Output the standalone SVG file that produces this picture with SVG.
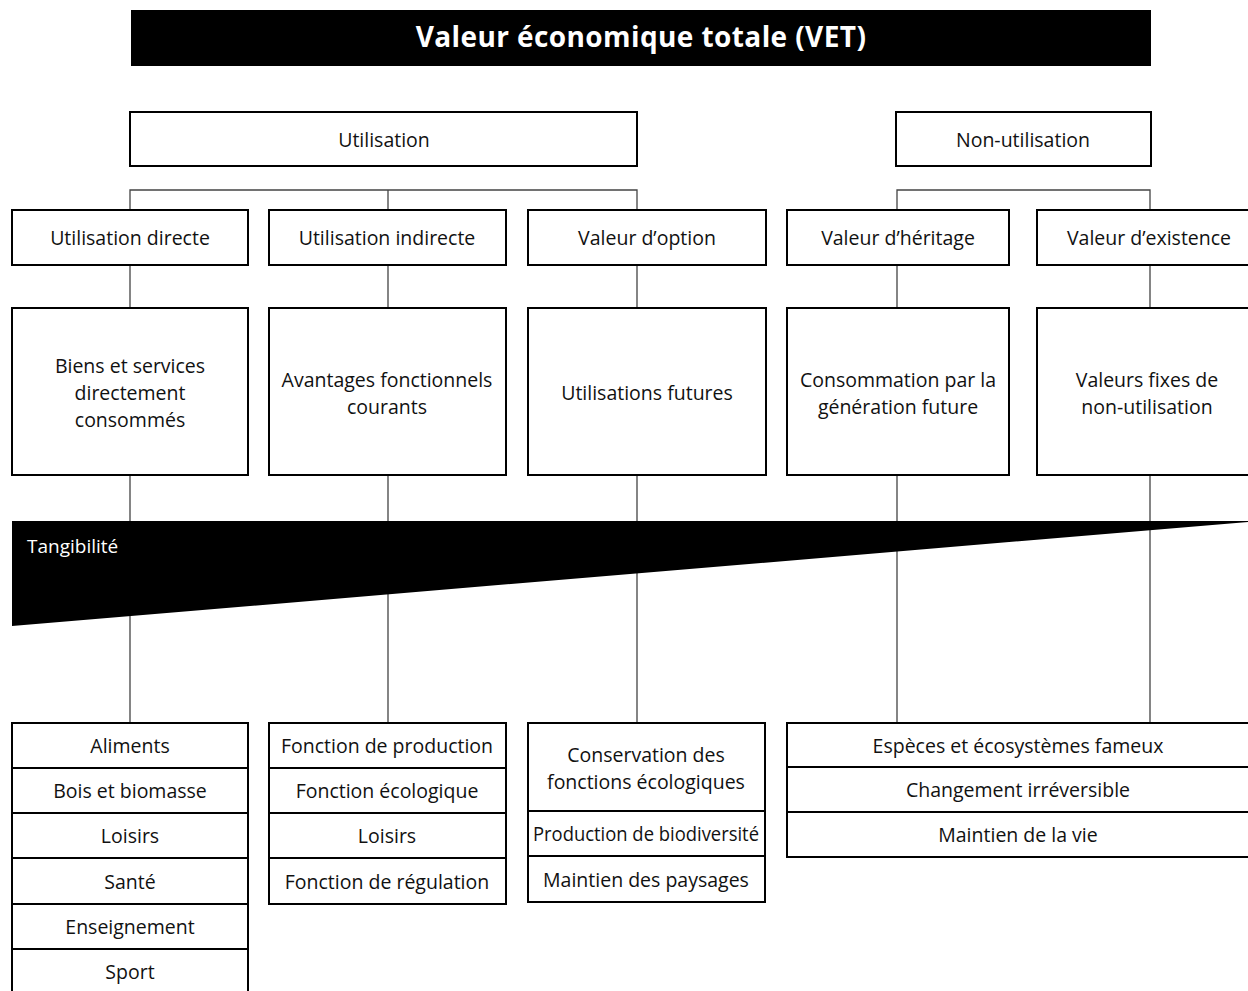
<svg xmlns="http://www.w3.org/2000/svg" width="1248" height="991" viewBox="0 0 1248 991">
<style>
.box{fill:#fff;stroke:#000;stroke-width:2}
.t{font-family:"Open Sans","Noto Sans",sans-serif;font-size:19.5px;fill:#111;text-anchor:middle}
.w{fill:#fff}
.ln{stroke:#444;stroke-width:1.3;fill:none}
</style>
<rect width="1248" height="991" fill="#fff"/>
<g id="title">
<rect x="131" y="10" width="1020" height="56" fill="#000"/>
<text x="641" y="47" class="t w" style="font-weight:bold;font-size:28px;letter-spacing:0.4px">Valeur économique totale (VET)</text>
</g>
<g id="connectors">
<path class="ln" d="M130,210V190H637V210M388,190V210M897,210V190H1150V210"/>
<path class="ln" d="M130,265V308M388,265V308M637,265V308M897,265V308M1150,265V308"/>
<path class="ln" d="M130,475V723M388,475V723M637,475V723M897,475V723M1150,475V723"/>
</g>
<g id="utilisation"><rect class="box" x="130" y="112" width="507" height="54"/><text class="t" x="384" y="147">Utilisation</text></g>
<g id="non-utilisation"><rect class="box" x="896" y="112" width="255" height="54"/><text class="t" x="1023" y="147">Non-utilisation</text></g>

<g id="u-directe"><rect class="box" x="12" y="210" width="236" height="55"/><text class="t" x="130" y="245">Utilisation directe</text></g>
<g id="u-indirecte"><rect class="box" x="269" y="210" width="237" height="55"/><text class="t" x="387" y="245">Utilisation indirecte</text></g>
<g id="v-option"><rect class="box" x="528" y="210" width="238" height="55"/><text class="t" x="647" y="245">Valeur d’option</text></g>
<g id="v-heritage"><rect class="box" x="787" y="210" width="222" height="55"/><text class="t" x="898" y="245">Valeur d’héritage</text></g>
<g id="v-existence"><rect class="box" x="1037" y="210" width="224" height="55"/><text class="t" x="1149" y="245">Valeur d’existence</text></g>

<g id="biens"><rect class="box" x="12" y="308" width="236" height="167"/><text class="t" x="130" y="373">Biens et services</text><text class="t" x="130" y="400">directement</text><text class="t" x="130" y="427">consommés</text></g>
<g id="avantages"><rect class="box" x="269" y="308" width="237" height="167"/><text class="t" x="387" y="387">Avantages fonctionnels</text><text class="t" x="387" y="414">courants</text></g>
<g id="futures"><rect class="box" x="528" y="308" width="238" height="167"/><text class="t" x="647" y="400">Utilisations futures</text></g>
<g id="consommation"><rect class="box" x="787" y="308" width="222" height="167"/><text class="t" x="898" y="387">Consommation par la</text><text class="t" x="898" y="414">génération future</text></g>
<g id="fixes"><rect class="box" x="1037" y="308" width="224" height="167"/><text class="t" x="1147" y="387">Valeurs fixes de</text><text class="t" x="1147" y="414">non-utilisation</text></g>

<g id="tangibilite">
<polygon points="12,521 1248,521 1248,522 12,626" fill="#000"/>
<text x="27" y="553" style="font-family:'Open Sans','Noto Sans',sans-serif;font-size:19px;fill:#fff">Tangibilité</text>
</g>

<g id="list-directe">
<rect class="box" x="12" y="723" width="236" height="45"/><text class="t" x="130" y="753">Aliments</text>
<rect class="box" x="12" y="768" width="236" height="45"/><text class="t" x="130" y="798">Bois et biomasse</text>
<rect class="box" x="12" y="813" width="236" height="45"/><text class="t" x="130" y="843">Loisirs</text>
<rect class="box" x="12" y="858" width="236" height="46"/><text class="t" x="130" y="889">Santé</text>
<rect class="box" x="12" y="904" width="236" height="45"/><text class="t" x="130" y="934">Enseignement</text>
<rect class="box" x="12" y="949" width="236" height="46"/><text class="t" x="130" y="979">Sport</text>
</g>
<g id="list-indirecte">
<rect class="box" x="269" y="723" width="237" height="45"/><text class="t" x="387" y="753">Fonction de production</text>
<rect class="box" x="269" y="768" width="237" height="45"/><text class="t" x="387" y="798">Fonction écologique</text>
<rect class="box" x="269" y="813" width="237" height="45"/><text class="t" x="387" y="843">Loisirs</text>
<rect class="box" x="269" y="858" width="237" height="46"/><text class="t" x="387" y="889">Fonction de régulation</text>
</g>
<g id="list-option">
<rect class="box" x="528" y="723" width="237" height="88"/><text class="t" x="646" y="762">Conservation des</text><text class="t" x="646" y="789">fonctions écologiques</text>
<rect class="box" x="528" y="811" width="237" height="45"/><text class="t" x="646" y="841" textLength="226" lengthAdjust="spacingAndGlyphs">Production de biodiversité</text>
<rect class="box" x="528" y="856" width="237" height="46"/><text class="t" x="646" y="887">Maintien des paysages</text>
</g>
<g id="list-non-utilisation">
<rect class="box" x="787" y="723" width="463" height="44"/><text class="t" x="1018" y="753">Espèces et écosystèmes fameux</text>
<rect class="box" x="787" y="767" width="463" height="45"/><text class="t" x="1018" y="797">Changement irréversible</text>
<rect class="box" x="787" y="812" width="463" height="45"/><text class="t" x="1018" y="842">Maintien de la vie</text>
</g>
</svg>
